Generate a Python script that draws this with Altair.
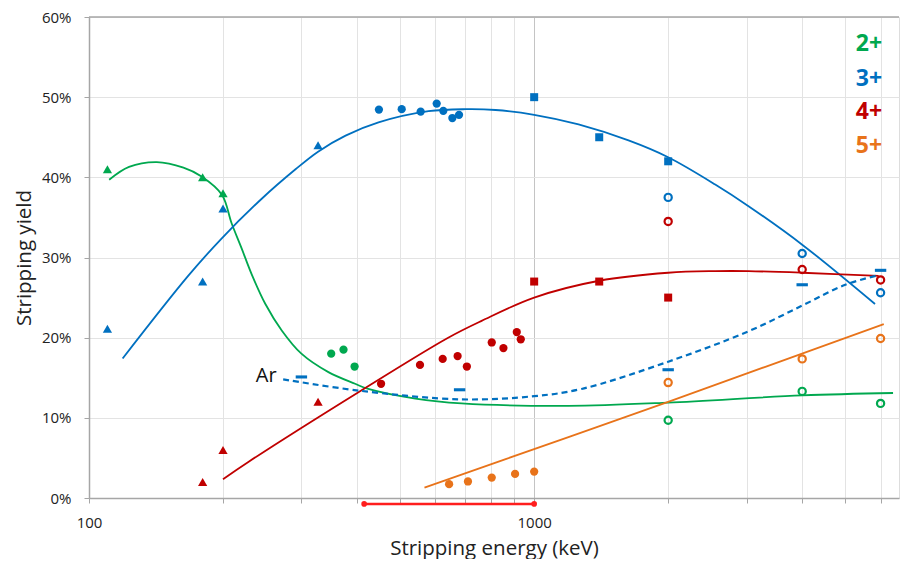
import altair as alt
import pandas as pd

# ---------------- data ----------------
series_names = ["2+", "3+", "4+", "5+"]
series_colors = ["#00A84F", "#0070C0", "#C00000", "#E8731A"]

# 2+ markers
g_tri_E = [110, 180, 200]
g_tri_Y = [41.0, 40.0, 38.0]
g_dot_E = [350, 373, 395]
g_dot_Y = [18.0, 18.5, 16.4]
g_open_E = [2000, 4000, 6000]
g_open_Y = [9.7, 13.3, 11.8]

# 3+ markers
b_tri_E = [110, 180, 200, 327]
b_tri_Y = [21.1, 27.0, 36.1, 44.0]
b_dot_E = [448, 504, 556, 604, 625, 655, 678]
b_dot_Y = [48.45, 48.5, 48.2, 49.2, 48.3, 47.4, 47.8]
b_sq_E = [1000, 1400, 2000]
b_sq_Y = [50.0, 45.0, 42.0]
b_open_E = [2000, 4000, 6000]
b_open_Y = [37.5, 30.5, 25.6]

# 4+ markers
r_tri_E = [180, 200, 327]
r_tri_Y = [2.0, 6.0, 12.0]
r_dot_E = [453, 554, 623, 673, 706, 803, 853, 914, 933]
r_dot_Y = [14.25, 16.6, 17.35, 17.7, 16.4, 19.4, 18.7, 20.7, 19.8]
r_sq_E = [1000, 1400, 2000]
r_sq_Y = [27.0, 27.0, 25.0]
r_open_E = [2000, 4000, 6000]
r_open_Y = [34.5, 28.5, 27.2]

# 5+ markers
o_dot_E = [644, 710, 803, 906, 1000]
o_dot_Y = [1.73, 2.06, 2.55, 3.0, 3.3]
o_open_E = [2000, 4000, 6000]
o_open_Y = [14.4, 17.35, 19.9]

# Ar (3+) dash markers
ar_E = [300, 680, 2000, 4000, 6000]
ar_Y = [15.1, 13.5, 16.0, 26.6, 28.4]

# fitted curves
green_fit_E = [111, 123, 142, 163, 179, 199, 209, 220, 232, 249, 271, 300, 345, 396, 424, 541, 687, 1194, 2000, 4000, 6400]
green_fit_Y = [39.7, 41.3, 41.9, 41.2, 40.1, 37.8, 34.3, 31.2, 27.9, 24.2, 20.9, 18.0, 15.7, 14.25, 13.6, 12.4, 11.8, 11.5, 11.9, 12.8, 13.1]
blue_fit_E = [119, 167, 198, 244, 291, 327, 377, 447, 579, 701, 819, 1000, 1258, 1629, 2000, 2551, 3031, 4000, 5830]
blue_fit_Y = [17.4, 27.7, 32.3, 37.3, 41.0, 43.2, 45.2, 46.85, 48.25, 48.5, 48.4, 47.8, 46.6, 44.6, 42.5, 39.1, 36.4, 31.6, 24.2]
red_fit_E = [200, 228, 403, 641, 762, 1000, 1400, 2000, 2551, 3031, 4000, 5940]
red_fit_Y = [2.35, 4.5, 13.2, 20.0, 22.1, 25.0, 27.1, 28.1, 28.3, 28.3, 28.1, 27.7]
orange_fit_E = [567, 1194, 2000, 6100]
orange_fit_Y = [1.3, 7.6, 12.0, 21.7]
ar_fit_E = [273, 403, 688, 1000, 1277, 2000, 3031, 4000, 5000, 5940]
ar_fit_Y = [14.8, 13.4, 12.3, 12.7, 13.6, 17.0, 20.8, 24.0, 26.6, 27.8]

# annotations
bracket_E = [415, 1000]
bracket_Y = -0.74
legend_E = 5650
legend_Y = [56.6, 52.3, 48.1, 43.9]
ar_label_E = 250
ar_label_Y = 15.2

x_grid_values = [100, 200, 300, 400, 500, 600, 700, 800, 900, 1000,
                 2000, 3000, 4000, 5000, 6000]
y_values = [0, 10, 20, 30, 40, 50, 60]

# ---------------- build tables ----------------
def tbl(E, Y, s):
    return pd.DataFrame({"E": E, "Y": Y, "series": s})

tri = pd.concat([tbl(g_tri_E, g_tri_Y, "2+"), tbl(b_tri_E, b_tri_Y, "3+"), tbl(r_tri_E, r_tri_Y, "4+")])
dots = pd.concat([tbl(g_dot_E, g_dot_Y, "2+"), tbl(b_dot_E, b_dot_Y, "3+"),
                  tbl(r_dot_E, r_dot_Y, "4+"), tbl(o_dot_E, o_dot_Y, "5+")])
squares = pd.concat([tbl(b_sq_E, b_sq_Y, "3+"), tbl(r_sq_E, r_sq_Y, "4+")])
opens = pd.concat([tbl(g_open_E, g_open_Y, "2+"), tbl(b_open_E, b_open_Y, "3+"),
                   tbl(r_open_E, r_open_Y, "4+"), tbl(o_open_E, o_open_Y, "5+")])
dashes = tbl(ar_E, ar_Y, "3+")
fits = pd.concat([tbl(green_fit_E, green_fit_Y, "2+"), tbl(blue_fit_E, blue_fit_Y, "3+"),
                  tbl(red_fit_E, red_fit_Y, "4+"), tbl(orange_fit_E, orange_fit_Y, "5+")])
ar_fit = tbl(ar_fit_E, ar_fit_Y, "3+")
legend_df = pd.DataFrame({"E": [legend_E] * 4, "Y": legend_Y, "series": series_names})
bracket_df = pd.DataFrame({"E": [bracket_E[0]], "E2": [bracket_E[1]], "Y": [bracket_Y]})
bracket_pts = pd.DataFrame({"E": bracket_E, "Y": [bracket_Y] * 2})

FONT = "Open Sans"
AXIS_GRAY = "#a6a6a6"
GRID = "#e3e3e3"

xaxis = alt.Axis(
    values=x_grid_values,
    labelExpr="datum.value == 100 || datum.value == 1000 ? format(datum.value, 'd') : ''",
    labelOverlap=False, labelFlush=False,
    grid=True,
    gridColor={"condition": {"test": "datum.value == 1000", "value": "#c4c4c4"}, "value": GRID},
    domainColor=AXIS_GRAY, domainWidth=1.5, tickColor=AXIS_GRAY, tickSize=5,
    labelFont=FONT, labelFontSize=15, labelColor="#222", labelPadding=12,
    titleFont=FONT, titleFontSize=20.5, titleFontWeight="normal", titleColor="#222", titlePadding=8,
)
yaxis = alt.Axis(
    values=y_values, labelExpr="datum.value + '%'",
    grid=True, gridColor=GRID,
    domainColor=AXIS_GRAY, domainWidth=1.5, tickColor=AXIS_GRAY, tickSize=5,
    labelFont=FONT, labelFontSize=15, labelColor="#222", labelPadding=13,
    titleFont=FONT, titleFontSize=20.5, titleFontWeight="normal", titleColor="#222", titlePadding=7,
)
X = alt.X("E:Q", scale=alt.Scale(type="log", domain=[100, 6600]), axis=xaxis,
          title="Stripping energy (keV)")
Y = alt.Y("Y:Q", scale=alt.Scale(domain=[0, 60]), axis=yaxis, title="Stripping yield")
C = alt.Color("series:N", scale=alt.Scale(domain=series_names, range=series_colors), legend=None)

top_border = alt.Chart(pd.DataFrame({"Y": [60]})).mark_rule(color=AXIS_GRAY, strokeWidth=1.5).encode(y="Y:Q")

fit_lines = alt.Chart(fits).mark_line(strokeWidth=1.8, interpolate="catmull-rom").encode(
    x=X, y=Y, color=C, detail="series:N")
ar_line = alt.Chart(ar_fit).mark_line(strokeWidth=2.2, strokeDash=[6, 4], interpolate="catmull-rom",
                                      color="#0070C0").encode(x=X, y=Y)

tri_layer = alt.Chart(tri).mark_point(shape="triangle-up", filled=True, size=85, opacity=1).encode(x=X, y=Y, color=C)
dot_layer = alt.Chart(dots).mark_point(shape="circle", filled=True, size=68, opacity=1).encode(x=X, y=Y, color=C)
sq_layer = alt.Chart(squares).mark_point(shape="square", filled=True, size=64, opacity=1).encode(x=X, y=Y, color=C)
open_layer = alt.Chart(opens).mark_point(shape="circle", filled=False, size=52, strokeWidth=2.2, opacity=1).encode(x=X, y=Y, color=C)
dash_layer = alt.Chart(dashes).mark_point(shape="M-1,-0.27L1,-0.27L1,0.27L-1,0.27Z", filled=True, size=130,
                                          opacity=1).encode(x=X, y=Y, color=C)

legend_layer = alt.Chart(legend_df).mark_text(font=FONT, fontSize=23, fontWeight="bold", align="center",
                                              baseline="middle").encode(x=X, y=Y, color=C, text="series:N")
ar_text = alt.Chart(pd.DataFrame({"E": [ar_label_E], "Y": [ar_label_Y], "t": ["Ar"]})).mark_text(
    font=FONT, fontSize=20, align="center", baseline="middle", color="#111").encode(x=X, y=Y, text="t:N")

bracket = alt.Chart(bracket_df).mark_rule(color="#FF1E1E", strokeWidth=2.5).encode(x=X, x2="E2:Q", y=Y)
bracket_ends = alt.Chart(bracket_pts).mark_point(shape="circle", filled=True, size=32, color="#FF1E1E",
                                                 opacity=1).encode(x=X, y=Y)

chart = alt.layer(
    top_border, fit_lines, ar_line, tri_layer, dot_layer, sq_layer, open_layer, dash_layer,
    legend_layer, ar_text, bracket, bracket_ends
).properties(
    width=810, height=481,
    padding={"left": 6, "top": 2, "right": 0, "bottom": 0},
).configure_view(stroke=None).configure(background="white")

chart.save("out.html", embed_options={"renderer": "svg", "actions": False})
